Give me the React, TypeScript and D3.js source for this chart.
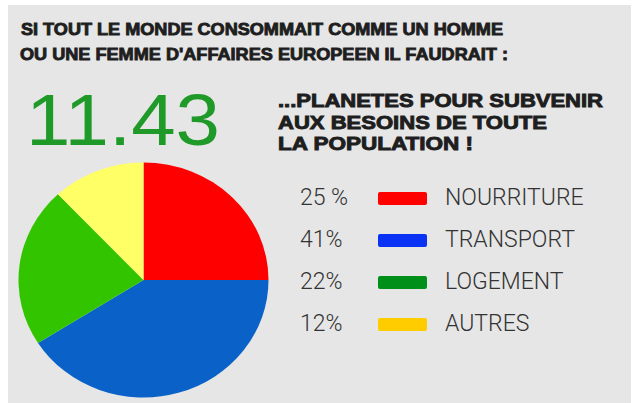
import React from "react";
import * as d3 from "d3";

const categories = ["NOURRITURE", "TRANSPORT", "LOGEMENT", "AUTRES"];
const values = [25, 41, 22, 12];
const percentLabels = ["25 %", "41%", "22%", "12%"];
const pieColors = ["#ff0000", "#0a62c9", "#33c400", "#ffff66"];
const legendColors = ["#ff0000", "#0a32f5", "#00901a", "#ffcc00"];
const titleLines = [
  "SI TOUT LE MONDE CONSOMMAIT COMME UN HOMME",
  "OU UNE FEMME D'AFFAIRES EUROPEEN IL FAUDRAIT :",
];
const subtitleLines = [
  "...PLANETES POUR SUBVENIR",
  "AUX BESOINS DE TOUTE",
  "LA POPULATION !",
];
const bigNumber = "11.43";

export default function App() {
  const W = 635;
  const H = 403;
  const pie = d3.pie<number>().sort(null).value((d) => d)(values);
  const arc = d3.arc<d3.PieArcDatum<number>>().innerRadius(0).outerRadius(125);

  const titleX = [21, 20];
  const titleBase = [35, 60];
  const titleLen = [482, 488];
  const subBase = [107, 129, 150];
  const subLen = [325, 269, 195];

  const rowY = d3.scaleLinear().domain([0, 3]).range([205, 331]);
  const heavy = "'Liberation Sans', Arial, sans-serif";
  const thin = "'Roboto', 'Liberation Sans', Arial, sans-serif";

  return (
    <svg width={W} height={H} style={{ position: "absolute", left: 0, top: 0 }}>
      <rect x={0} y={0} width={W} height={H} fill="#ffffff" />
      <rect x={8} y={5} width={623} height={H - 5} fill="#e6e6e6" />
      {titleLines.map((t, i) => (
        <text
          key={t}
          x={titleX[i]}
          y={titleBase[i]}
          fontFamily={heavy}
          fontWeight={700}
          fontSize={17}
          fill="#1e1e1e"
          stroke="#1e1e1e"
          strokeWidth={0.9}
          textLength={titleLen[i]}
          lengthAdjust="spacingAndGlyphs"
        >
          {t}
        </text>
      ))}
      <text
        x={26}
        y={145}
        fontFamily="'Liberation Sans', Arial, sans-serif"
        fontWeight={400}
        fontSize={72}
        fill="#1f9a28"
        textLength={194}
        lengthAdjust="spacingAndGlyphs"
      >
        {bigNumber}
      </text>
      {subtitleLines.map((t, i) => (
        <text
          key={t}
          x={278}
          y={subBase[i]}
          fontFamily={heavy}
          fontWeight={700}
          fontSize={18}
          fill="#1e1e1e"
          stroke="#1e1e1e"
          strokeWidth={0.9}
          textLength={subLen[i]}
          lengthAdjust="spacingAndGlyphs"
        >
          {t}
        </text>
      ))}
      <g transform="translate(143.5,280) scale(1,0.94)">
        {pie.map((d, i) => (
          <path key={categories[i]} d={arc(d) || ""} fill={pieColors[i]} />
        ))}
      </g>
      {categories.map((c, i) => (
        <g key={c}>
          <text x={300} y={rowY(i)} fontFamily={thin} fontWeight={300} fontSize={23} fill="#333">
            {percentLabels[i]}
          </text>
          <rect
            x={378}
            y={rowY(i) - 13}
            width={49}
            height={13}
            rx={2}
            fill={legendColors[i]}
          />
          <text x={445} y={rowY(i)} fontFamily={thin} fontWeight={300} fontSize={23} fill="#333">
            {c}
          </text>
        </g>
      ))}
    </svg>
  );
}
